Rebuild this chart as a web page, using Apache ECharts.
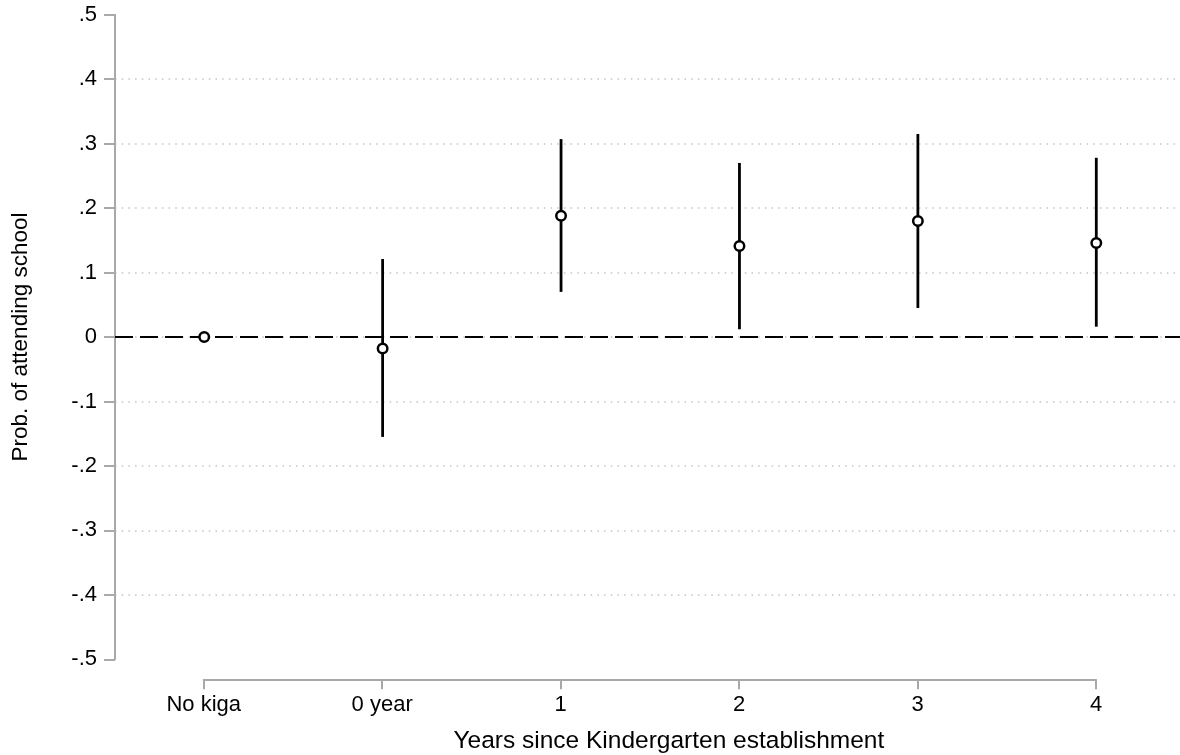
<!DOCTYPE html>
<html>
<head>
<meta charset="utf-8">
<script src="https://cdn.jsdelivr.net/npm/echarts@6/dist/echarts.min.js"></script>
<style>
html,body{margin:0;padding:0;background:#fff;}
#chart{width:1180px;height:755px;}
</style>
</head>
<body>
<div id="chart"></div>
<script>
var categories = ['No kiga', '0 year', '1', '2', '3', '4'];
var estimates = [0, -0.018, 0.188, 0.141, 0.180, 0.146];
var ciLow = [null, -0.155, 0.070, 0.012, 0.045, 0.016];
var ciHigh = [null, 0.121, 0.307, 0.270, 0.315, 0.278];
var yTicks = {min: -0.5, max: 0.5, interval: 0.1};

var FONT = 'Liberation Sans, Arial, Helvetica, sans-serif';
var AXIS_COLOR = '#a9a9a9';

function fmt(v) {
  var r = Math.round(v * 10) / 10;
  if (r === 0) return '0';
  return String(r).replace('0.', '.');
}

var errData = [];
for (var i = 0; i < categories.length; i++) {
  if (ciLow[i] !== null && ciHigh[i] !== null) errData.push([i, ciLow[i], ciHigh[i]]);
}
var ptData = estimates.map(function (v, i) { return [i, v]; });

var chart = echarts.init(document.getElementById('chart'), null, {renderer: 'canvas'});
chart.setOption({
  animation: false,
  backgroundColor: '#fff',
  textStyle: {fontFamily: FONT},
  grid: [
    {left: 115, right: -5.5, top: 14.7, bottom: 95.7, outerBoundsMode: 'none', containLabel: false},
    {left: 203.7, right: 84, top: 14.7, bottom: 95.7, outerBoundsMode: 'none', containLabel: false}
  ],
  xAxis: [
    {
      gridIndex: 0, type: 'category', data: categories, boundaryGap: true,
      show: false
    },
    {
      gridIndex: 1, type: 'category', data: categories, boundaryGap: false,
      offset: 20,
      axisLine: {show: true, onZero: false, lineStyle: {color: AXIS_COLOR, width: 2}},
      axisTick: {show: true, length: 10, lineStyle: {color: AXIS_COLOR, width: 2}, alignWithLabel: true},
      axisLabel: {color: '#000', fontSize: 22, fontFamily: FONT, margin: 15, interval: 0},
      splitLine: {show: false},
      name: 'Years since Kindergarten establishment',
      nameLocation: 'middle', nameGap: 49,
      nameTextStyle: {color: '#000', fontSize: 24.5, fontFamily: FONT, padding: [0, 0, 0, 38]}
    }
  ],
  yAxis: [
    {
      gridIndex: 0, type: 'value', min: yTicks.min, max: yTicks.max, interval: yTicks.interval,
      axisLine: {show: true, onZero: false, lineStyle: {color: AXIS_COLOR, width: 2}},
      axisTick: {show: true, length: 11, lineStyle: {color: AXIS_COLOR, width: 2}},
      axisLabel: {color: '#000', fontSize: 22, fontFamily: FONT, margin: 18, formatter: fmt},
      splitLine: {show: true, showMinLine: false, showMaxLine: false,
        lineStyle: {color: '#c4c4c4', width: 1.5, type: [1.5, 5.2]}},
      name: 'Prob. of attending school',
      nameLocation: 'middle', nameGap: 83,
      nameTextStyle: {color: '#000', fontSize: 22.5, fontFamily: FONT}
    },
    {
      gridIndex: 1, type: 'value', min: yTicks.min, max: yTicks.max, interval: yTicks.interval,
      show: false
    }
  ],
  series: [
    {
      type: 'custom',
      xAxisIndex: 0, yAxisIndex: 0,
      data: errData,
      z: 3,
      renderItem: function (params, api) {
        var p1 = api.coord([api.value(0), api.value(1)]);
        var p2 = api.coord([api.value(0), api.value(2)]);
        return {
          type: 'line',
          shape: {x1: p1[0], y1: p1[1], x2: p2[0], y2: p2[1]},
          style: {stroke: '#000', lineWidth: 2.8}
        };
      },
      markLine: {
        silent: true, symbol: 'none', z: 2,
        label: {show: false},
        lineStyle: {color: '#000', width: 2.2, type: [18, 7]},
        data: [{yAxis: 0}]
      }
    },
    {
      type: 'scatter',
      xAxisIndex: 0, yAxisIndex: 0,
      data: ptData,
      symbol: 'circle', symbolSize: 9.5,
      z: 5,
      itemStyle: {color: '#fff', borderColor: '#000', borderWidth: 2.5, opacity: 1}
    }
  ]
});
</script>
</body>
</html>
